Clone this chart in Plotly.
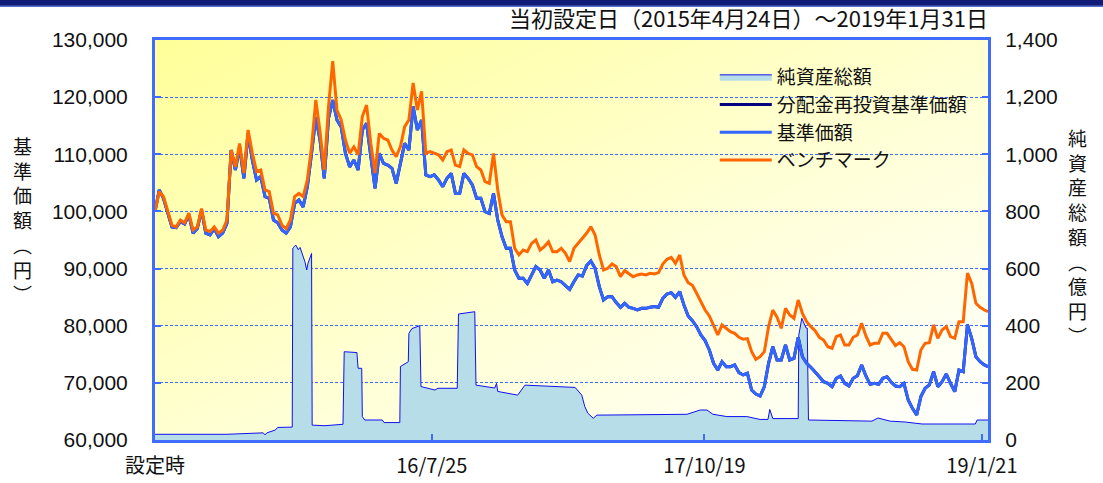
import base64
import pandas as pd
import plotly.graph_objects as go

START = "2015-04-24"
END = "2019-01-31"

# weekly readings (every 7 days from START), last value = END
benchmark = [
    100000, 103450, 102600, 99950, 97600, 97300, 98500, 98000, 99700, 96750,
    97300, 100500, 96750, 96500, 97300, 96200, 96750, 98500, 110750, 107800,
    111900, 106700, 114250, 110200, 107000, 107250, 103750, 103450, 99700, 99400,
    97600, 97000, 98500, 102600, 103150, 102600, 105500, 111300, 119500, 114000,
    107250, 118300, 126300, 117750, 116000, 112500, 110200, 111300, 109900, 116600,
    118600, 111900, 106700, 113650, 112800, 112500, 110750, 109600, 111350, 114850,
    116000, 122500, 117750, 121000, 110150, 110450, 110150, 109900, 109000, 110450,
    110750, 108100, 107850, 110750, 110150, 109900, 107850, 107250, 105200, 104900,
    110150, 103750, 99400, 98200, 98200, 93550, 92400, 93250, 92950, 94400,
    95000, 93250, 93850, 94700, 92950, 92950, 93550, 92670, 91210, 93540,
    94420, 95290, 96170, 97330, 95870, 92380, 89750, 90040, 90800, 90340,
    88580, 89630, 89170, 88580, 88880, 89050, 88880, 89170, 89050, 89290,
    90800, 91620, 91970, 90920, 92380, 88880, 87530, 87070, 85670, 84210,
    82750, 81700, 80130, 78380, 80130, 79480, 78960, 78670, 77970, 77620,
    77740, 75460, 74120, 74580, 75460, 79830, 82750, 81500, 79540, 83040,
    81880, 81290, 84500, 82170, 80710, 79830, 79130, 77970, 77500, 76330,
    76040, 78080, 78380, 76630, 76630, 77970, 78380, 80420, 78200, 76630,
    76920, 76920, 78670, 78670, 77500, 76510, 77040, 76330, 73710, 72370,
    72250, 75750, 76920, 77040, 80130, 77790, 79250, 79830, 78080, 77790,
    80710, 80710, 89200, 87420, 83920, 83220, 82750, 82460,
]

nav = [
    100000, 103750, 102300, 99700, 97300, 97150, 98200, 97800, 99400, 96200,
    97000, 100250, 96200, 95900, 97000, 95600, 96200, 97900, 110750, 107250,
    111300, 105800, 113650, 109000, 105500, 106100, 102600, 102300, 98500, 98000,
    96750, 96200, 97300, 101400, 102000, 100800, 104300, 110200, 116500, 112500,
    105800, 116300, 119500, 116000, 114800, 110200, 107800, 109000, 107250, 114250,
    115400, 109600, 104050, 110150, 108400, 108100, 107550, 104900, 108400, 111900,
    110750, 118350, 114250, 116000, 106400, 106100, 106400, 105500, 104350, 105800,
    106650, 103150, 103150, 106650, 105800, 104650, 102300, 102300, 99950, 99650,
    103150, 98500, 95600, 93550, 93550, 89750, 88300, 88300, 87400, 88850,
    90350, 89750, 88300, 89750, 87700, 88000, 87700, 87000, 86370, 87710,
    88880, 88700, 90510, 91330, 90040, 86830, 84500, 85090, 85090, 84040,
    83220, 83920, 83220, 83040, 82750, 83040, 83040, 83220, 83340, 83220,
    84790, 85550, 85780, 84970, 85960, 83630, 81700, 80880, 79830, 78380,
    77390, 75750, 73420, 72250, 73710, 72830, 72830, 73130, 71790, 71380,
    71670, 68750, 68050, 67700, 69340, 73420, 76340, 74000, 74000, 76630,
    74000, 74290, 77970, 74580, 73420, 72720, 71960, 71080, 70210, 69920,
    69330, 70790, 71200, 69920, 69450, 70790, 71260, 73130, 71200, 69740,
    69920, 69740, 70790, 71080, 70090, 69450, 69330, 69920, 67000, 65540,
    64380, 67590, 69040, 69630, 71960, 69330, 70210, 71550, 69920, 68460,
    72250, 71960, 80200, 77790, 74580, 73710, 73130, 72830,
]

# no distributions: reinvested NAV equals NAV
nav_reinvested = list(nav)

na_dates = [
    "2015-04-24", "2015-08-21", "2015-10-20", "2015-10-23", "2015-10-26",
    "2015-11-09", "2015-11-13", "2015-12-07", "2015-12-08", "2015-12-13",
    "2015-12-17", "2015-12-20", "2015-12-28", "2015-12-31", "2016-01-02",
    "2016-01-05", "2016-01-08", "2016-01-09", "2016-01-30", "2016-02-29",
    "2016-03-02", "2016-03-23", "2016-03-25", "2016-03-31", "2016-04-01",
    "2016-04-05", "2016-05-04", "2016-05-07", "2016-06-02", "2016-06-03",
    "2016-06-16", "2016-06-17", "2016-06-22", "2016-07-05", "2016-07-07",
    "2016-07-30", "2016-08-04", "2016-09-05", "2016-09-07", "2016-10-04",
    "2016-10-06", "2016-11-06", "2016-11-09", "2016-11-11", "2016-12-14",
    "2016-12-26", "2017-03-02", "2017-03-19", "2017-03-30", "2017-04-04",
    "2017-04-09", "2017-04-18", "2017-04-24", "2017-09-20", "2017-10-12",
    "2017-10-23", "2017-11-02", "2017-11-25", "2017-12-28", "2018-01-19",
    "2018-02-01", "2018-02-04", "2018-02-09", "2018-03-23", "2018-03-24",
    "2018-03-29", "2018-04-05", "2018-04-07", "2018-04-09", "2018-07-23",
    "2018-08-02", "2018-08-22", "2018-09-16", "2018-10-14", "2019-01-10",
    "2019-01-13", "2019-01-31",
]
na_values = [
    20, 20, 25, 18, 25,
    35, 44, 45, 672, 682,
    666, 674, 624, 595, 618,
    636, 653, 52, 50, 55,
    309, 306, 251, 251, 82,
    70, 70, 61, 61, 257,
    274, 373, 390, 400, 187,
    175, 181, 181, 441, 449,
    192, 182, 198, 170, 157,
    192, 187, 184, 157, 117,
    94, 76, 87, 90, 105,
    105, 90, 82, 82, 72,
    72, 107, 75, 75, 367,
    426, 392, 392, 70, 66,
    77, 66, 63, 56, 56,
    70, 70,
]

tick_dates = ["2015-04-24", "2016-07-25", "2017-10-19", "2019-01-21"]
tick_labels = ["設定時", "16/7/25", "17/10/19", "19/1/21"]

title_text = "当初設定日（2015年4月24日）～2019年1月31日"
left_title = "基<br>準<br>価<br>額<br>︵<br>円<br>︶"
right_title = "純<br>資<br>産<br>総<br>額<br>︵<br>億<br>円<br>︶"


def weekly_dates(n):
    base = pd.Timestamp(START)
    return [base + pd.Timedelta(days=7 * i) for i in range(n - 1)] + [pd.Timestamp(END)]


AXIS_BLUE = "#3F6BFF"
CJK = "Noto Sans CJK JP"
NUM = "Liberation Sans"

fig = go.Figure()

fig.add_trace(go.Scatter(
    x=pd.to_datetime(na_dates), y=na_values, name="純資産総額",
    mode="lines", fill="tozeroy", fillcolor="#B7DDE8",
    line=dict(color="#1010F0", width=1), yaxis="y",
))
fig.add_trace(go.Scatter(
    x=weekly_dates(len(nav_reinvested)), y=nav_reinvested, name="分配金再投資基準価額",
    mode="lines", line=dict(color="#000080", width=3), yaxis="y2",
))
fig.add_trace(go.Scatter(
    x=weekly_dates(len(nav)), y=nav, name="基準価額",
    mode="lines", line=dict(color="#3366FF", width=3), yaxis="y2",
))
fig.add_trace(go.Scatter(
    x=weekly_dates(len(benchmark)), y=benchmark, name="ベンチマーク",
    mode="lines", line=dict(color="#FF6600", width=3), yaxis="y2",
))

svg = (
    '<svg xmlns="http://www.w3.org/2000/svg" width="833" height="400" preserveAspectRatio="none">'
    '<defs><linearGradient id="g" x1="0" y1="0" x2="1" y2="1">'
    '<stop offset="0" stop-color="#FFFF99"/>'
    '<stop offset="0.55" stop-color="#FFFFD6"/>'
    '<stop offset="1" stop-color="#FFFFFF"/>'
    '</linearGradient></defs>'
    '<rect width="833" height="400" fill="url(#g)"/></svg>'
)
bg_src = "data:image/svg+xml;base64," + base64.b64encode(svg.encode()).decode()

fig.update_layout(
    width=1103, height=483,
    autosize=False,
    margin=dict(l=155, r=115, t=40, b=43, autoexpand=False),
    paper_bgcolor="white",
    plot_bgcolor="rgba(0,0,0,0)",
    showlegend=True,
    legend=dict(
        x=0.672, y=0.955, xanchor="left", yanchor="top",
        bgcolor="rgba(0,0,0,0)", borderwidth=0,
        font=dict(family=CJK, size=19, color="#111"),
        itemwidth=52, tracegroupgap=0,
    ),
    images=[dict(
        source=bg_src, xref="paper", yref="paper", x=0, y=1,
        sizex=1, sizey=1, sizing="stretch", layer="below",
    )],
    xaxis=dict(
        type="date", range=[START, END], automargin=False,
        tickmode="array", tickvals=tick_dates, ticktext=tick_labels,
        ticks="inside", ticklen=6, tickwidth=2, tickcolor=AXIS_BLUE,
        showline=True, linecolor=AXIS_BLUE, linewidth=3, mirror=True,
        showgrid=False, zeroline=False,
        tickfont=dict(family=CJK, size=20, color="#111"),
        ticklabelstandoff=6,
    ),
    yaxis=dict(
        range=[0, 1400], dtick=200, tickformat=",", automargin=False,
        side="right", ticks="inside", ticklen=6, tickwidth=2, tickcolor=AXIS_BLUE,
        showline=True, linecolor=AXIS_BLUE, linewidth=3,
        showgrid=True, gridcolor=AXIS_BLUE, gridwidth=1, griddash="3px,2px",
        zeroline=False,
        tickfont=dict(family=NUM, size=21, color="#111"),
        ticklabelstandoff=10,
    ),
    yaxis2=dict(
        range=[60000, 130000], dtick=10000, tickformat=",", automargin=False,
        overlaying="y", side="left", ticks="inside", ticklen=6, tickwidth=2,
        tickcolor=AXIS_BLUE, showline=True, linecolor=AXIS_BLUE, linewidth=3,
        showgrid=False, zeroline=False,
        tickfont=dict(family=NUM, size=21, color="#111"),
        ticklabelstandoff=20,
    ),
    shapes=[
        dict(type="rect", xref="paper", yref="paper",
             x0=-155 / 833, x1=948 / 833, y0=1.085, y1=1.1,
             fillcolor="#101C78", line=dict(width=0), layer="above"),
        dict(type="rect", xref="paper", yref="paper",
             x0=-155 / 833, x1=948 / 833, y0=1.0825, y1=1.086,
             fillcolor="#5A6FC8", line=dict(width=0), layer="above"),
    ],
    annotations=[
        dict(text=title_text, xref="paper", yref="paper",
             x=(990 - 155) / 833, y=1 + (40 - 17) / 400,
             xanchor="right", yanchor="middle", showarrow=False,
             font=dict(family=CJK, size=22, color="#111")),
        dict(text=left_title, xref="paper", yref="paper",
             x=(22 - 155) / 833, y=(440 - 220) / 400,
             xanchor="center", yanchor="middle", showarrow=False,
             font=dict(family=CJK, size=19, color="#111")),
        dict(text=right_title, xref="paper", yref="paper",
             x=(1077 - 155) / 833, y=(440 - 236) / 400,
             xanchor="center", yanchor="middle", showarrow=False,
             font=dict(family=CJK, size=19, color="#111")),
    ],
)

fig.write_html(
    "out.html",
    config={"displayModeBar": False},
    post_script="document.body.style.margin='0';document.body.style.overflow='hidden';",
)
